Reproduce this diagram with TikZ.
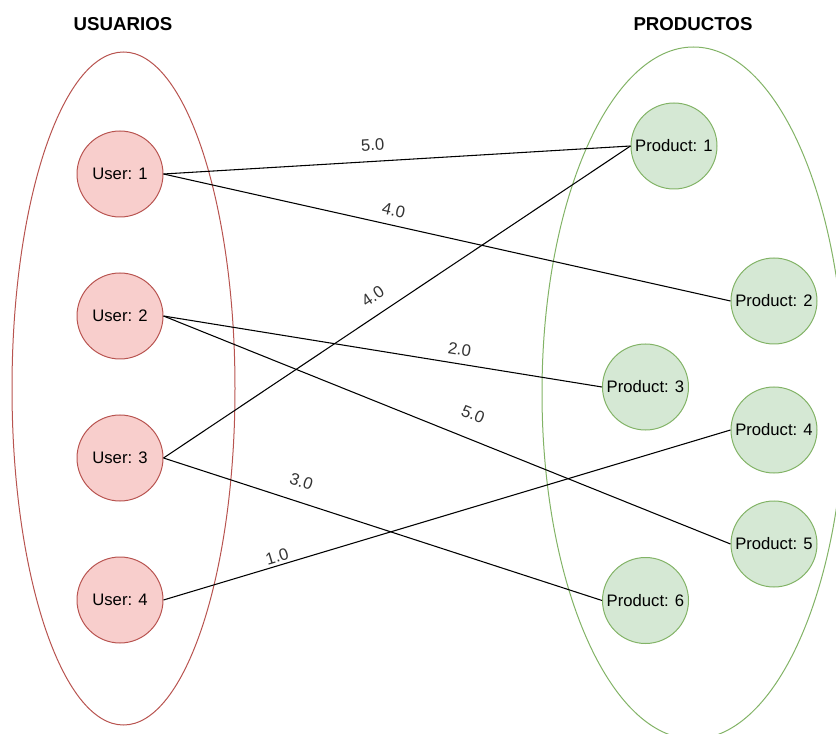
\documentclass[tikz,border=0pt]{standalone}
\usepackage{fontspec}
\setmainfont{Liberation Sans}
\definecolor{userfill}{HTML}{F8CECC}
\definecolor{userline}{HTML}{B85450}
\definecolor{prodfill}{HTML}{D5E8D4}
\definecolor{prodline}{HTML}{82B366}
\definecolor{labelgray}{HTML}{333333}

\begin{document}
\begin{tikzpicture}[x=0.75pt,y=-0.75pt,
    user/.style={circle,draw=userline,fill=userfill,line width=0.75pt,minimum size=64.5pt,inner sep=0pt,font=\fontsize{12.5}{15}\selectfont},
    product/.style={circle,draw=prodline,fill=prodfill,line width=0.75pt,minimum size=64.5pt,inner sep=0pt,font=\fontsize{12.5}{15}\selectfont},
    weight/.style={sloped,inner sep=1pt,text=labelgray,font=\fontsize{12.5}{15}\selectfont},
    title/.style={font=\fontsize{14}{17}\selectfont\bfseries}]
    \useasboundingbox (0,0) rectangle (836,734);
    \clip (0,0) rectangle (836,734);
    % groups
    \draw [userline, line width=0.75pt] (123.5,388.5) ellipse [x radius=111.5, y radius=336.5];
    \draw [prodline, line width=0.75pt] (693.5,393) ellipse [x radius=151.5, y radius=346];
    \node [title] (TU) at (123,24) {USUARIOS};
    \node [title] (TP) at (693,24) {PRODUCTOS};
    % users
    \node [user] (U1) at (120,174) {User: 1};
    \node [user] (U2) at (120,316) {User: 2};
    \node [user] (U3) at (120,458) {User: 3};
    \node [user] (U4) at (120,600) {User: 4};
    % products
    \node [product] (P1) at (674,146) {Product: 1};
    \node [product] (P2) at (774,301) {Product: 2};
    \node [product] (P3) at (645.5,387) {Product: 3};
    \node [product] (P4) at (774,430) {Product: 4};
    \node [product] (P5) at (774,544) {Product: 5};
    \node [product] (P6) at (645.5,600.5) {Product: 6};
    % ratings
    \draw [line width=0.8pt] (U1.east) -- node[weight, pos=0.45, above=6.5pt] {5.0} (P1.west);
    \draw [line width=0.8pt] (U1.east) -- node[weight, pos=0.40, above=5.4pt] {4.0} (P2.west);
    \draw [line width=0.8pt] (U2.east) -- node[weight, pos=0.67, above=5pt] {2.0} (P3.west);
    \draw [line width=0.8pt] (U2.east) -- node[weight, pos=0.53, above=12.5pt] {5.0} (P5.west);
    \draw [line width=0.8pt] (U3.east) -- node[weight, pos=0.47, above=8pt] {4.0} (P1.west);
    \draw [line width=0.8pt] (U3.east) -- node[weight, pos=0.30, above=9.5pt] {3.0} (P6.west);
    \draw [line width=0.8pt] (U4.east) -- node[weight, pos=0.205, above=1pt] {1.0} (P4.west);
\end{tikzpicture}
\end{document}
